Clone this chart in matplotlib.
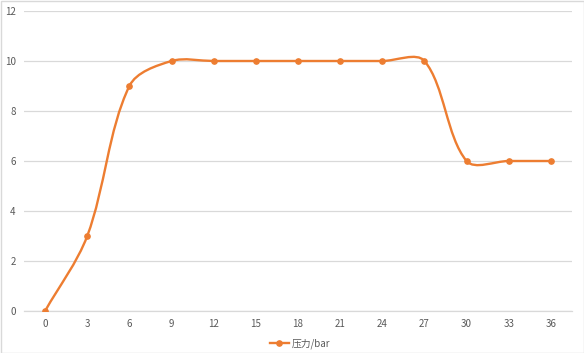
import numpy as np
import matplotlib
matplotlib.use("Agg")
import matplotlib.pyplot as plt
from matplotlib.path import Path
from matplotlib.patches import PathPatch, Rectangle
from matplotlib.lines import Line2D

plt.rcParams['font.family'] = ['Noto Sans CJK SC', 'DejaVu Sans']

categories = ["0", "3", "6", "9", "12", "15", "18", "21", "24", "27", "30", "33", "36"]
pressure = [0, 3, 9, 10, 10, 10, 10, 10, 10, 10, 6, 6, 6]
y_ticks = [0, 2, 4, 6, 8, 10, 12]
series_name = "压力/bar"

color = "#ED7D31"
grid = "#D9D9D9"
txt = "#595959"

W, H = 584, 353
ax_left, ax_bottom, ax_w, ax_h = 24, 42, 548, 300

fig = plt.figure(figsize=(W/100, H/100), dpi=100)
ax = fig.add_axes([ax_left/W, ax_bottom/H, ax_w/W, ax_h/H])

x = np.arange(len(categories), dtype=float)
y = np.array(pressure, dtype=float)
n = len(x)
ax.set_xlim(-0.5, n - 0.5)
ax.set_ylim(0, 12)

# Excel-like smoothing: Bezier control points weighted by segment lengths (screen space)
sx = ax_w / n
sy = ax_h / 12.0
P = np.column_stack([x, y])
S = np.column_stack([x * sx, y * sy])

def seglen(i, j):
    if i < 0 or j >= n:
        return 0.0
    return float(np.hypot(*(S[j] - S[i])))

verts = [tuple(P[0])]
codes = [Path.MOVETO]
for i in range(n - 1):
    a = P[max(i-1, 0)]; b = P[i]; c = P[i+1]; d = P[min(i+2, n-1)]
    dprev = seglen(i-1, i); dcur = seglen(i, i+1); dnext = seglen(i+1, i+2)
    r1 = dcur / (dprev + dcur) if (dprev + dcur) > 0 else 0.5
    r2 = dcur / (dcur + dnext) if (dcur + dnext) > 0 else 0.5
    c1 = b + (c - a) * r1 / 3.0 if i > 0 else b + (c - b) / 3.0
    c2 = c - (d - b) * r2 / 3.0 if i + 1 < n - 1 else c - (c - b) / 3.0
    verts += [tuple(c1), tuple(c2), tuple(c)]
    codes += [Path.CURVE4] * 3
path = Path(verts, codes)
ax.add_patch(PathPatch(path, facecolor='none', edgecolor=color, lw=1.7,
                       capstyle='round', joinstyle='round', zorder=3))
ax.plot(x, y, linestyle='none', marker='o', ms=3.8, color=color, zorder=4)

ax.set_yticks(y_ticks)
ax.set_yticklabels([str(v) for v in y_ticks])
ax.set_xticks(x)
ax.set_xticklabels(categories)
ax.yaxis.grid(True, color=grid, lw=0.9)
ax.set_axisbelow(True)
for s in ['top', 'right', 'left']:
    ax.spines[s].set_visible(False)
ax.spines['bottom'].set_color(grid)
ax.spines['bottom'].set_linewidth(0.9)
ax.tick_params(axis='both', length=0, labelsize=7, labelcolor=txt)
ax.tick_params(axis='y', pad=6)
ax.tick_params(axis='x', pad=6)

h = Line2D([0], [0], color=color, lw=1.7, marker='o', ms=3.8)
fig.legend([h], [series_name], loc='center', bbox_to_anchor=(300/W, 1 - 344/H),
           frameon=False, fontsize=7, labelcolor=txt, handlelength=2.0,
           handletextpad=0.3)

fig.patches.append(Rectangle((0.5/W, 0.5/H), (W-1)/W, (H-1)/H, transform=fig.transFigure,
                             fill=False, edgecolor=grid, lw=1.0))

fig.savefig("out.png", dpi=100)
